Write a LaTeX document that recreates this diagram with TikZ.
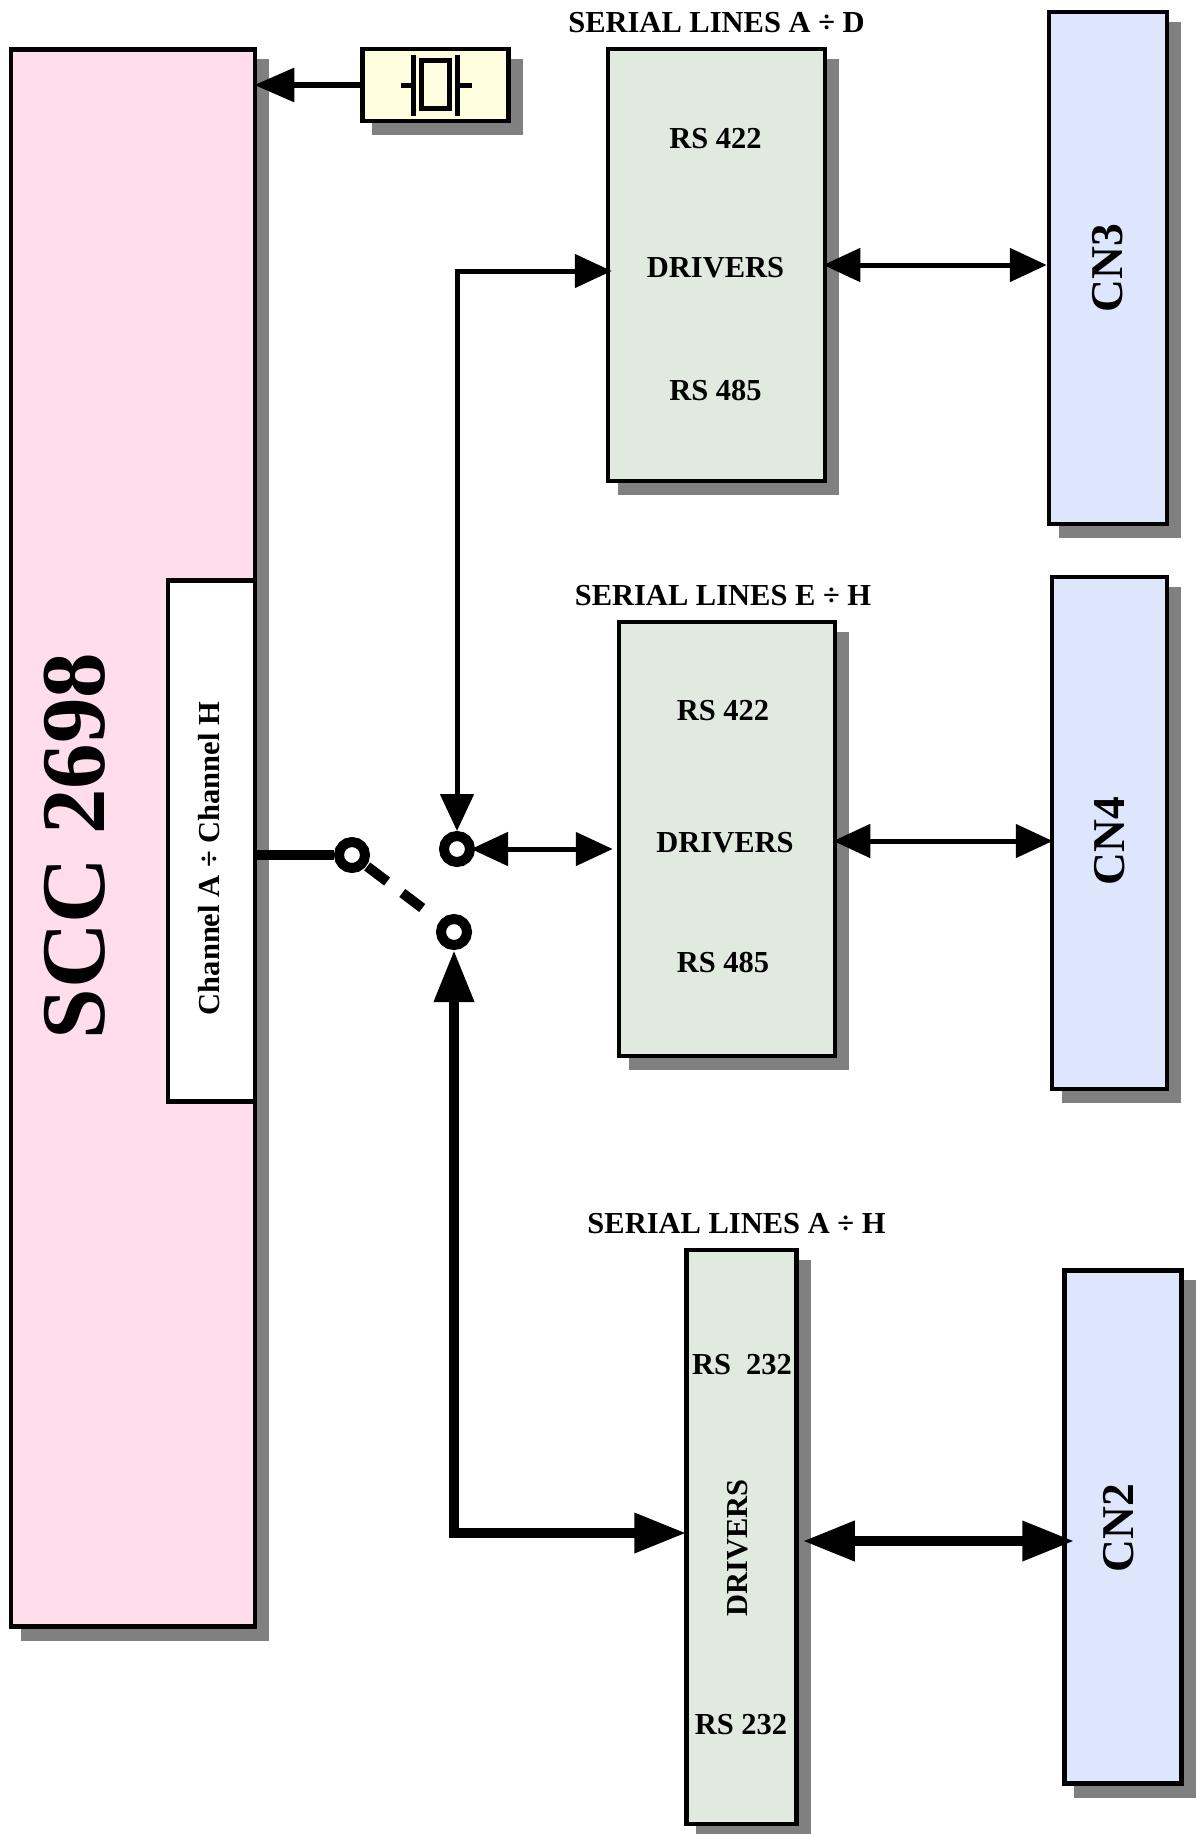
\documentclass[tikz,border=0pt]{standalone}
\usepackage{fontspec}
\setmainfont{Liberation Serif}
\usetikzlibrary{arrows.meta,positioning,shadows,calc}
\definecolor{sccfill}{HTML}{FFDDEB}
\definecolor{driverfill}{HTML}{E0EADF}
\definecolor{connfill}{HTML}{DDE6FD}
\definecolor{xtalfill}{HTML}{FFFFDF}
\definecolor{shadowgray}{HTML}{808080}
\begin{document}
\begin{tikzpicture}[
  x=1pt,y=-1pt,
  plainbox/.style={draw,line width=4.5pt,inner sep=0pt,rectangle},
  block/.style={plainbox,drop shadow={shadow xshift=12pt,shadow yshift=-12pt,opacity=1,fill=shadowgray,draw=shadowgray,line width=4.5pt}},
  boxsize/.style 2 args={minimum width=#1 pt,minimum height=#2 pt},
  lbl/.style={font=\fontsize{30.5}{36}\selectfont\bfseries,inner sep=0pt},
  connlbl/.style={font=\fontsize{45.5}{50}\selectfont\bfseries,inner sep=0pt,rotate=90},
  contact/.style={draw,circle,line width=10pt,fill=white,inner sep=0pt,minimum size=26pt},
  thinflow/.style={line width=5pt,{Triangle[length=37pt,width=33pt]}-{Triangle[length=37pt,width=33pt]}},
  thickflow/.style={line width=10pt,{Triangle[length=52pt,width=38pt]}-{Triangle[length=52pt,width=38pt]}},
  node distance=5mm]
\useasboundingbox (0,0) rectangle (1199,1834);
\node[block,fill=sccfill,boxsize={244}{1577}] (scc) at (133,838) {};
\node[plainbox,fill=white,boxsize={87}{521}] (channel) at (211.5,841) {};
\node[block,fill=xtalfill,boxsize={146}{72}] (crystal) at (435.5,85) {};
\node[block,fill=driverfill,boxsize={217}{432}] (driver1) at (716.5,265) {};
\node[block,fill=driverfill,boxsize={216}{434}] (driver2) at (727,839) {};
\node[block,fill=driverfill,boxsize={110}{574}] (driver3) at (741.5,1537) {};
\node[block,fill=connfill,boxsize={118}{512}] (cn3) at (1108,268) {};
\node[block,fill=connfill,boxsize={115}{512}] (cn4) at (1109.5,833) {};
\node[block,fill=connfill,boxsize={117}{513}] (cn2) at (1123,1527) {};
\node[font=\fontsize{91}{100}\selectfont\bfseries,inner sep=0pt,rotate=90] (scctext) at (75,846) {SCC 2698};
\node[lbl,rotate=90] (chantext) at (209,858.5) {Channel A ÷ Channel H};
\node[lbl,above=14pt of driver1] (title1) {SERIAL LINES A ÷ D};
\node[lbl,above=14pt of driver2,xshift=-4pt] (title2) {SERIAL LINES E ÷ H};
\node[lbl,above=14pt of driver3,xshift=-5pt] (title3) {SERIAL LINES A ÷ H};
\node[lbl] (mid1) at (715.5,268) {DRIVERS};
\node[lbl,above=108pt of mid1] {RS 422};
\node[lbl,below=101pt of mid1] {RS 485};
\node[lbl] (mid2) at (725,843) {DRIVERS};
\node[lbl,above=111pt of mid2,xshift=-2pt] {RS 422};
\node[lbl,below=98pt of mid2,xshift=-2pt] {RS 485};
\node[lbl,rotate=90] (mid3) at (738,1548) {DRIVERS};
\node[lbl] at (742,1365) {RS~ 232};
\node[lbl] at (741,1725) {RS 232};
\node[connlbl] at (cn3) {CN3};
\node[connlbl] at ([yshift=-8pt]cn4) {CN4};
\node[connlbl] at ([yshift=-1pt,xshift=-4pt]cn2) {CN2};
\node[contact] (sw1) at (352,855) {};
\node[contact] (sw2) at (457,849) {};
\node[contact] (sw3) at (454,932) {};
\begin{scope}[shift={(crystal.center)},line width=5pt]
\draw (-35,0)--(-22,0) (-22,-30)--(-22,31);
\draw (22,0)--(36,0) (22,-30)--(22,31);
\draw (-14,-25) rectangle (14,23);
\end{scope}
\draw[line width=6pt,-{Triangle[length=40pt,width=33pt]},shorten >=-3pt] (crystal.west)--(crystal.west -| scc.east);
\draw[line width=10pt] (sw1.west)--(sw1.west -| scc.east);
\draw[line width=10pt,dash pattern=on 25pt off 19pt,shorten <=1pt,shorten >=20pt] (sw1)--(sw3);
\draw[thinflow,shorten >=-6pt] (sw2.north) |- ([yshift=-6pt]driver1.west);
\draw[thinflow,shorten <=-4pt,shorten >=4pt] (sw2.east)--(sw2.east -| driver2.west);
\draw[thickflow,shorten >=-2pt] (sw3.south) |- ([yshift=4pt]driver3.west);
\foreach \a/\b/\c/\d in {driver1/cn3/0pt/0pt,driver2/cn4/-2pt/-3pt}
  \draw[thinflow,shorten <=-4pt,shorten >=\d] ([yshift=\c]\a.east)--([yshift=\c]\a.east -| \b.west);
\draw[thickflow,shorten <=4pt,shorten >=-12pt] ([yshift=-4pt]driver3.east)--([yshift=-4pt]driver3.east -| cn2.west);
\end{tikzpicture}
\end{document}
